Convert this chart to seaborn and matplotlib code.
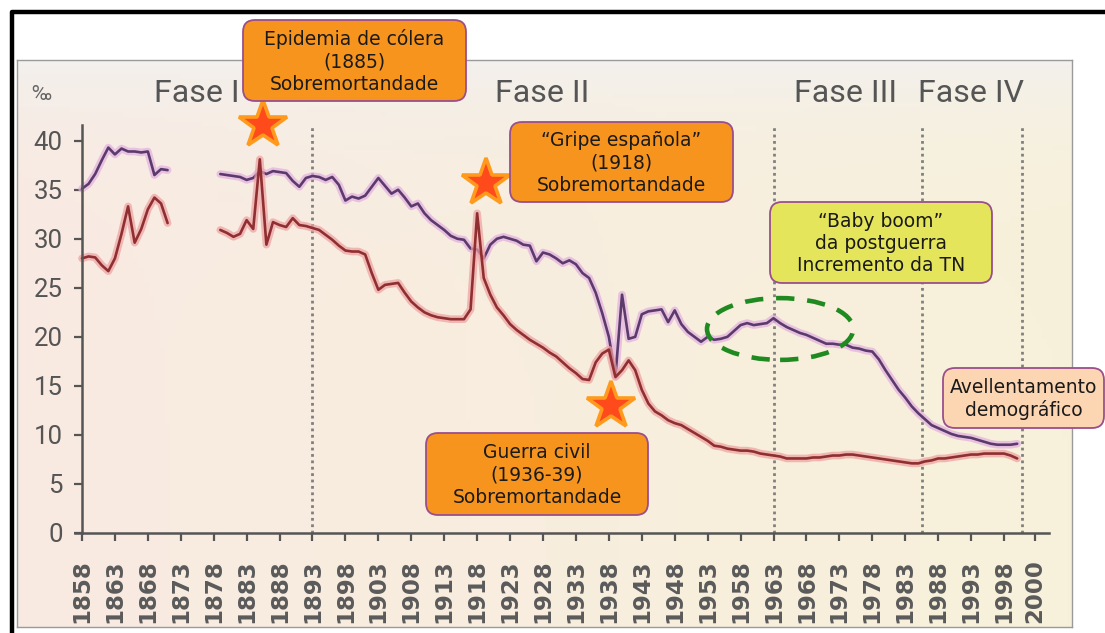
import numpy as np
import pandas as pd
import matplotlib
matplotlib.use('Agg')
import matplotlib.pyplot as plt
import matplotlib.patheffects as pe
import matplotlib.transforms as mtransforms
from matplotlib.patches import FancyBboxPatch, Ellipse
from matplotlib.lines import Line2D
from matplotlib.font_manager import FontProperties
import seaborn as sns

# natalidade / mortalidade (por mil), dous tramos con oco nos anos 1870
years_a = list(range(1858, 1872))
birth_a = [35.1, 35.6, 36.6, 38.0, 39.3, 38.6, 39.2, 38.9, 38.9, 38.8, 38.9, 36.5, 37.1, 37.0]
death_a = [28.0, 28.2, 28.1, 27.3, 26.7, 28.0, 30.5, 33.3, 29.6, 31.0, 33.0, 34.2, 33.6, 31.6]

years_b = list(range(1879, 2001))
birth_b = [36.6, 36.5,
           36.4, 36.3, 36.0, 36.2, 36.9, 36.6, 36.9, 36.8, 36.7, 35.9,   # 1881-1890
           35.3, 36.2, 36.4, 36.3, 36.0, 36.3, 35.5, 33.9, 34.3, 34.1,   # 1891-1900
           34.4, 35.3, 36.2, 35.4, 34.6, 35.0, 34.2, 33.3, 33.6, 32.6,   # 1901-1910
           31.9, 31.4, 30.9, 30.3, 30.0, 29.9, 29.0, 28.9, 28.0, 29.4,   # 1911-1920
           30.0, 30.2, 30.0, 29.8, 29.4, 29.3, 27.7, 28.6, 28.4, 28.0,   # 1921-1930
           27.5, 27.8, 27.4, 26.5, 26.0, 24.5, 22.4, 20.0, 16.0, 24.3,   # 1931-1940
           19.8, 20.0, 22.3, 22.6, 22.7, 22.8, 21.5, 22.7, 21.3, 20.5,   # 1941-1950
           20.0, 19.5, 20.0, 19.7, 19.8, 20.0, 20.6, 21.2, 21.4, 21.2,   # 1951-1960
           21.3, 21.4, 21.9, 21.4, 21.0, 20.7, 20.4, 20.2, 19.9, 19.6,   # 1961-1970
           19.3, 19.3, 19.2, 19.2, 18.9, 18.8, 18.6, 18.5, 17.7, 16.6,   # 1971-1980
           15.6, 14.6, 13.8, 12.9, 12.2, 11.6, 11.0, 10.7, 10.4, 10.1,   # 1981-1990
           9.9, 9.8, 9.7, 9.5, 9.3, 9.1, 9.0, 9.0, 9.0, 9.1]             # 1991-2000
death_b = [30.9, 30.6,
           30.2, 30.5, 31.9, 31.0, 38.1, 29.4, 31.7, 31.4, 31.2, 32.1,   # 1881-1890
           31.4, 31.3, 31.1, 30.9, 30.4, 29.9, 29.3, 28.8, 28.7, 28.7,   # 1891-1900
           28.4, 26.5, 24.8, 25.3, 25.4, 25.5, 24.5, 23.6, 23.0, 22.5,   # 1901-1910
           22.2, 22.0, 21.9, 21.8, 21.8, 21.8, 22.8, 32.6, 26.0, 24.3,   # 1911-1920
           23.0, 22.2, 21.3, 20.7, 20.2, 19.7, 19.3, 18.9, 18.4, 18.0,   # 1921-1930
           17.4, 16.8, 16.3, 15.7, 15.6, 17.4, 18.3, 18.7, 15.9, 16.6,   # 1931-1940
           17.6, 16.6, 14.6, 13.2, 12.4, 12.0, 11.5, 11.2, 11.0, 10.6,   # 1941-1950
           10.2, 9.8, 9.4, 8.9, 8.8, 8.6, 8.5, 8.4, 8.4, 8.3,            # 1951-1960
           8.1, 8.0, 7.9, 7.8, 7.6, 7.6, 7.6, 7.6, 7.7, 7.7,             # 1961-1970
           7.8, 7.9, 7.9, 8.0, 8.0, 7.9, 7.8, 7.7, 7.6, 7.5,             # 1971-1980
           7.4, 7.3, 7.2, 7.1, 7.1, 7.3, 7.4, 7.6, 7.6, 7.7,             # 1981-1990
           7.8, 7.9, 8.0, 8.0, 8.1, 8.1, 8.1, 8.1, 7.9, 7.6]             # 1991-2000

phase_names = ['Fase I', 'Fase II', 'Fase III', 'Fase IV']
phase_bounds = [1893, 1963, 1985.5, 2000.8]
tick_years = list(range(1858, 1999, 5))
tick_labels = [str(y) for y in tick_years] + ['2000']

df = pd.concat([
    pd.DataFrame({'year': years_a, 'birth': birth_a, 'death': death_a, 'tramo': 'a'}),
    pd.DataFrame({'year': years_b, 'birth': birth_b, 'death': death_b, 'tramo': 'b'}),
])

sns.set_theme(style='white')
plt.rcParams['font.family'] = ['DejaVu Sans']
narrow = ['Roboto', 'DejaVu Sans']

W, H = 1105, 633
fig = plt.figure(figsize=(W / 100, H / 100), dpi=100)
fig.patch.set_facecolor('white')
# pixel coords (y down) -> figure
px = mtransforms.Affine2D().scale(1 / W, -1 / H).translate(0, 1) + fig.transFigure

# scanned-page background panel
bg = fig.add_axes([17 / W, 1 - 627 / H, (1072 - 17) / W, (627 - 60) / H])
gx = np.linspace(0, 1, 200)[None, :, None]
gy = np.linspace(0, 1, 120)[:, None, None]
left_c = np.array([249, 234, 226]) / 255
right_c = np.array([247, 241, 218]) / 255
top_c = np.array([243, 240, 237]) / 255
grad = left_c * (1 - gx) + right_c * gx
grad = grad * (1 - np.exp(-gy * 9)) + top_c * np.exp(-gy * 9)
bg.imshow(grad, aspect='auto', extent=[0, 1, 1, 0])
bg.set_xticks([]); bg.set_yticks([])
for s in bg.spines.values():
    s.set_color('#9a9a9a'); s.set_linewidth(1)

ax = fig.add_axes([75.4 / W, 1 - 533 / H, (1048.8 - 75.4) / W, (533 - 125) / H])
ax.set_facecolor('none')

for col, core, halo in [('birth', '#5a3b6b', '#e2aee0'), ('death', '#8f2f31', '#eea0a0')]:
    sns.lineplot(data=df, x='year', y=col, units='tramo', estimator=None, ax=ax,
                 color=core, linewidth=1.9,
                 path_effects=[pe.Stroke(linewidth=5.5, foreground=halo, alpha=0.7), pe.Normal()])

for b in phase_bounds:
    ax.axvline(b, color='#808080', linestyle=(0, (1, 1.3)), linewidth=2.0, zorder=1)

for side in ['top', 'right']:
    ax.spines[side].set_visible(False)
ax.spines['left'].set_position(('data', 1858))
for side in ['left', 'bottom']:
    ax.spines[side].set_color('#555555'); ax.spines[side].set_linewidth(1.8)

ax.set_xlim(1857, 2004.8)
ax.set_ylim(0, 41.6)
ax.set_xlabel(''); ax.set_ylabel('')
ax.set_xticks(tick_years + [2002.7], tick_labels)
ax.set_yticks(range(0, 41, 5), [str(v) for v in range(0, 41, 5)])
ax.tick_params(axis='x', direction='out', length=6, width=1.6, color='#555555', pad=13,
               bottom=True, labelcolor='#5a5a5a', labelrotation=90)
ax.tick_params(axis='y', direction='out', length=6, width=1.6, color='#555555', pad=8,
               left=True, labelcolor='#555555')

# baby boom ellipse
ax.add_patch(Ellipse((1964.0, 20.8), 22.2, 6.3, fill=False, edgecolor='#1f8a1f',
                     linewidth=3.3, linestyle=(0, (4, 2.8)), zorder=5))

# stars on the mortality crises
star_x = [1885.5, 1919.3, 1938.3]
star_y = [41.6, 35.7, 13.0]
ax.plot(star_x, star_y, linestyle='none', marker='*', markersize=36, markerfacecolor='#ff4b1c',
        markeredgecolor='#ff9a1c', markeredgewidth=2.6, clip_on=False, zorder=6)

# phase titles and unit
for name, cx in zip(phase_names, [197, 542, 846, 971]):
    fig.text(cx, 93, name, transform=px, ha='center', va='center', fontsize=23,
             color='#555555', family=narrow)
fig.text(41, 95, '‰', transform=px, ha='center', va='center', fontsize=15, color='#666666',
         family=narrow)

# annotation boxes (pixel boxes: left, top, right, bottom)
boxes = [
    ((243, 20, 466, 101), '#f7941d', 'Epidemia de cólera\n(1885)\nSobremortandade'),
    ((510, 122, 733, 202), '#f7941d', '“Gripe española”\n(1918)\nSobremortandade'),
    ((426, 433, 648, 515), '#f7941d', 'Guerra civil\n(1936-39)\nSobremortandade'),
    ((770, 202, 992, 283), '#e4e55a', '“Baby boom”\nda postguerra\nIncremento da TN'),
    ((943, 368, 1104, 428), '#fcd5b3', 'Avellentamento\ndemográfico'),
]
for (x0, y0, x1, y1), fc, txt in boxes:
    fig.add_artist(FancyBboxPatch((x0, y0), x1 - x0, y1 - y0, transform=px,
                                  boxstyle='round,pad=0,rounding_size=12',
                                  facecolor=fc, edgecolor='#9a4f8c', linewidth=1.3, zorder=4))
    fig.text((x0 + x1) / 2, (y0 + y1) / 2 + 1, txt, transform=px, ha='center', va='center',
             fontsize=13.5, color='#1a1a1a', linespacing=1.22, zorder=5)

# black frame of the slide
fig.add_artist(Line2D([12, 12, W], [H, 12, 12], transform=px, color='black', linewidth=3.2))

# tick label fonts, each label gets its own font object
for lab in ax.get_xticklabels():
    lab.set_fontproperties(FontProperties(family=['DejaVu Sans'], weight='bold', size=16.5))
for lab in ax.get_yticklabels():
    lab.set_fontproperties(FontProperties(family=narrow, size=18.5))

fig.savefig('out.png', dpi=100)
